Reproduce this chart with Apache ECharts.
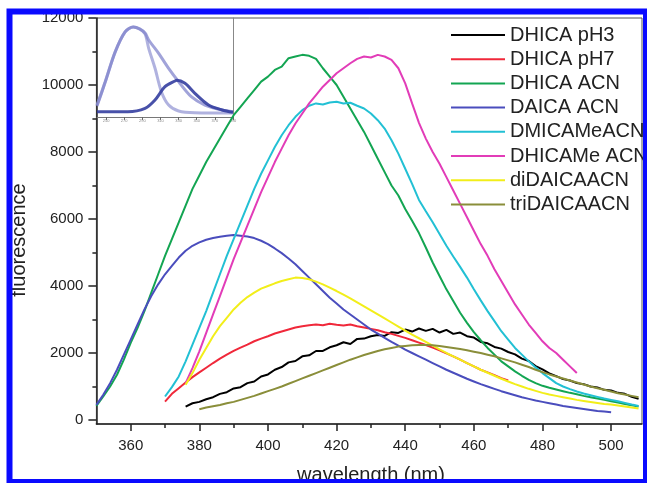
<!DOCTYPE html>
<html>
<head>
<meta charset="utf-8">
<script src="https://cdn.jsdelivr.net/npm/echarts@6/dist/echarts.min.js"></script>
<style>
  html, body { margin: 0; padding: 0; background: #fff; }
  #chart { width: 647px; height: 483px; }
</style>
</head>
<body>
<div id="chart"></div>
<script>
// Emission wavelengths (nm) shared by all spectra
const wavelength = [350,352,354,356,358,360,362,364,366,368,370,372,374,376,378,380,382,384,386,388,
  390,392,394,396,398,400,402,404,406,408,410,412,414,416,418,420,422,424,426,428,
  430,432,434,436,438,440,442,444,446,448,450,452,454,456,458,460,462,464,466,468,
  470,472,474,476,478,480,482,484,486,488,490,492,494,496,498,500,502,504,506,508];

const dhicaPH3 = [null,null,null,null,null,null,null,null,null,null,null,null,null,
  400,500,540,620,680,780,830,940,980,1100,
  1150,1300,1360,1500,1580,1720,1760,1900,1930,2060,
  2060,2170,2230,2320,2270,2420,2430,2500,2540,2510,
  2620,2600,2700,2640,2730,2660,2720,2610,2690,2570,
  2610,2500,2460,2330,2290,2180,2130,2030,1960,1830,
  1760,1610,1510,1390,1310,1220,1180,1100,1070,1000,
  970,900,880,810,780,690,630];

const dhicaPH7 = [null,null,null,null,null,null,null,null,null,null,
  550,780,950,1120,1280,1420,1560,1700,1830,1950,
  2060,2160,2250,2350,2430,2500,2580,2640,2700,2760,
  2800,2830,2850,2830,2870,2840,2820,2850,2800,2760,
  2720,2680,2620,2570,2510,2450,2380,2310,2240,2160,
  2080,1990,1900,1800,1700,1600,1500,1420,1340,1250,
  1180,null,null,null,null,null,null,null,null,null,null,null,null,null,null,null,null,null,null];

const dhicaACN = [420,700,1000,1350,1800,2300,2750,3250,3800,4350,
  4900,5400,5900,6400,6900,7300,7700,8050,8400,8750,
  9100,9350,9600,9850,10100,10250,10450,10550,10800,10850,
  10900,10870,10780,10500,10250,10000,9650,9300,8950,8600,
  8200,7800,7400,7000,6700,6300,5950,5580,5150,4700,
  4300,3900,3550,3200,2900,2620,2380,2150,1950,1750,
  1600,1450,1320,1200,1100,1020,960,910,860,810,
  770,720,680,640,600,560,520,480,440,400];

const daicaACN = [450,750,1100,1500,1950,2400,2850,3300,3700,4050,
  4350,4600,4850,5050,5200,5300,5380,5430,5470,5500,
  5520,5500,5480,5430,5350,5250,5120,4980,4820,4650,
  4450,4250,4050,3850,3650,3480,3300,3150,3000,2850,
  2700,2580,2450,2330,2220,2100,2000,1900,1800,1700,
  1600,1500,1410,1320,1230,1150,1070,1000,930,860,
  800,740,680,630,580,540,500,460,420,390,
  360,330,300,270,250,230,null,null,null,null];

const dmicaMeACN = [null,null,null,null,null,null,null,null,null,null,
  700,980,1300,1750,2250,2750,3250,3800,4350,4900,
  5400,5900,6400,6900,7350,7750,8150,8500,8800,9050,
  9250,9380,9450,9420,9480,9500,9450,9470,9380,9300,
  9150,8950,8700,8350,7950,7500,7050,6570,6230,5900,
  5550,5200,4880,4570,4250,3900,3570,3250,2950,2650,
  2400,2150,1950,1750,1570,1400,1250,1100,1000,920,
  850,790,740,690,640,600,560,510,460,420];

const dhicaMeACN = [null,null,null,null,null,null,null,null,null,null,null,null,null,
  1100,1550,2050,2600,3150,3700,4250,4800,5300,5800,
  6300,6800,7250,7700,8100,8500,8850,9150,9450,9700,
  9950,10150,10350,10500,10650,10780,10850,10820,10900,10850,
  10750,10500,10050,9450,8870,8400,8000,7650,7250,6850,
  6450,6050,5650,5250,4900,4500,4150,3800,3450,3150,
  2850,2600,2350,2150,2000,1800,1600,1400,
  null,null,null,null,null,null,null,null,null];

const diDAICA = [null,null,null,null,null,null,null,null,null,null,null,null,null,
  1050,1400,1800,2150,2500,2800,3050,3300,3500,3670,
  3800,3920,4000,4080,4150,4200,4250,4240,4200,4130,
  4050,3950,3850,3740,3630,3510,3390,3270,3150,3030,
  2910,2790,2670,2550,2440,2330,2220,2110,2000,1900,
  1800,1700,1600,1500,1410,1320,1230,1150,1070,1000,
  930,870,810,760,720,680,640,600,570,540,
  510,480,460,430,400,370,340];

const triDAICA = [null,null,null,null,null,null,null,null,null,null,null,null,null,null,null,
  320,370,410,450,500,540,600,660,720,790,
  860,930,1000,1080,1160,1240,1320,1400,1480,1560,
  1640,1720,1800,1870,1940,2000,2060,2110,2150,2190,
  2210,2230,2240,2240,2230,2210,2180,2150,2120,2080,
  2040,2000,1950,1900,1840,1780,1720,1650,1580,1500,
  1430,1360,1300,1240,1180,1120,1060,1000,950,900,
  850,800,760,720,680];

const seriesNames = ['DHICA pH3','DHICA pH7','DHICA ACN','DAICA ACN','DMICAMeACN','DHICAMe ACN','diDAICAACN','triDAICAACN'];
const seriesValues = [dhicaPH3, dhicaPH7, dhicaACN, daicaACN, dmicaMeACN, dhicaMeACN, diDAICA, triDAICA];
const seriesColors = ['#000000','#f0283a','#13a552','#4a4dbd','#22c0d4','#e23cb8','#f2ee1a','#8a8e3a'];

// Axis ticks
const xMajorTicks = [360,380,400,420,440,460,480,500];
const xMinorTicks = [370,390,410,430,450,470,490];
const yMajorTicks = [0,2000,4000,6000,8000,10000,12000];
const yMinorTicks = [1000,3000,5000,7000,9000,11000];

// Inset spectra (arbitrary units)
const insetA_x = [240,249,260,271,280,287,293,297,304,311,319,330,348,390];
const insetA_y = [12,35.5,65.7,85.9,90.8,88.9,84,69.4,49.2,25.6,12.1,6.1,4.3,4];
const insetB_x = [240,249,260,271,280,287,293,297,308,319,330,344,359,378,390];
const insetB_y = [11,35,65.5,86,91,89,84.8,77.8,64.3,49.2,35.7,20.5,12.1,7.1,5.4];
const insetC_x = [240,274,293,304,315,326,328,337,348,363,378,390];
const insetC_y = [5.4,5.4,8.8,17.2,30.6,36.4,37.1,34,23.9,12.1,7.1,4.7];
const insetTicks = [250,270,290,310,330,350,370,390];

const FONT = 'Liberation Sans, Arial, sans-serif';
const pairs = (xs, ys) => xs.map((x, i) => [x, ys[i]]);
const plain = v => String(v);

const chart = echarts.init(document.getElementById('chart'), null, { renderer: 'canvas' });

const mainSeries = seriesNames.map((name, k) => ({
  name: name,
  type: 'line',
  xAxisIndex: 0,
  yAxisIndex: 0,
  showSymbol: false,
  symbol: 'none',
  data: pairs(wavelength, seriesValues[k]),
  lineStyle: { color: seriesColors[k], width: 2 },
  itemStyle: { color: seriesColors[k] },
  emphasis: { disabled: true },
  z: 3
}));

const insetSeries = [
  { x: insetA_x, y: insetA_y, color: 'rgba(150,152,212,0.75)' },
  { x: insetB_x, y: insetB_y, color: 'rgba(130,132,204,0.75)' },
  { x: insetC_x, y: insetC_y, color: 'rgba(52,62,160,0.9)' }
].map(s => ({
  type: 'line',
  xAxisIndex: 2,
  yAxisIndex: 2,
  smooth: 0.3,
  showSymbol: false,
  symbol: 'none',
  data: pairs(s.x, s.y),
  lineStyle: { color: s.color, width: 3 },
  emphasis: { disabled: true },
  silent: true
}));

const option = {
  backgroundColor: '#ffffff',
  animation: false,
  textStyle: { fontFamily: FONT },
  grid: [
    { left: 96.4, top: 18, width: 545.6, height: 406, show: true, borderColor: '#555', borderWidth: 1, backgroundColor: 'transparent' },
    { left: 97, top: 18, width: 136, height: 99 }
  ],
  xAxis: [
    {
      gridIndex: 0, type: 'value', min: 350, max: 509, position: 'bottom',
      axisLine: { onZero: false, lineStyle: { color: '#222', width: 1.5 } },
      axisTick: { customValues: xMajorTicks, length: 7, lineStyle: { color: '#222', width: 1.5 } },
      axisLabel: { customValues: xMajorTicks, formatter: plain, margin: 14, fontSize: 15, color: '#222', fontFamily: FONT },
      splitLine: { show: false }
    },
    {
      gridIndex: 0, type: 'value', min: 350, max: 509, position: 'bottom',
      axisLine: { show: false, onZero: false },
      axisTick: { customValues: xMinorTicks, length: 4, lineStyle: { color: '#222', width: 1.5 } },
      axisLabel: { show: false },
      splitLine: { show: false }
    },
    {
      gridIndex: 1, type: 'value', min: 240, max: 390, position: 'bottom',
      axisLine: { onZero: false, lineStyle: { color: '#777', width: 1 } },
      axisTick: { customValues: insetTicks, length: 3, lineStyle: { color: '#666', width: 1 } },
      axisLabel: { customValues: insetTicks, formatter: plain, margin: 2, fontSize: 4, color: '#888', fontFamily: FONT },
      splitLine: { show: false }
    }
  ],
  yAxis: [
    {
      gridIndex: 0, type: 'value', min: -120, max: 12000, position: 'left',
      axisLine: { show: true, onZero: false, lineStyle: { color: '#222', width: 1.5 } },
      axisTick: { show: true, customValues: yMajorTicks, length: 8, lineStyle: { color: '#222', width: 1.5 } },
      axisLabel: { customValues: yMajorTicks, formatter: plain, margin: 13, fontSize: 15, color: '#222', fontFamily: FONT },
      splitLine: { show: false }
    },
    {
      gridIndex: 0, type: 'value', min: -120, max: 12000, position: 'left',
      axisLine: { show: false, onZero: false },
      axisTick: { show: true, customValues: yMinorTicks, length: 4, lineStyle: { color: '#222', width: 1.5 } },
      axisLabel: { show: false },
      splitLine: { show: false }
    },
    {
      gridIndex: 1, type: 'value', min: 0, max: 100, position: 'right',
      axisLine: { show: true, onZero: false, lineStyle: { color: '#888', width: 1 } },
      axisTick: { show: false },
      axisLabel: { show: false },
      splitLine: { show: false }
    }
  ],
  legend: {
    orient: 'vertical',
    left: 451,
    top: 23,
    padding: 0,
    itemGap: 0.2,
    itemWidth: 54,
    itemHeight: 2,
    icon: 'rect',
    data: seriesNames,
    textStyle: { fontSize: 20, lineHeight: 24, color: '#222', fontFamily: FONT },
    selectedMode: false
  },
  graphic: [
    {
      type: 'text', x: 371, y: 475, z: 10,
      style: { text: 'wavelength (nm)', fontSize: 20, fontFamily: FONT, fill: '#222', align: 'center', verticalAlign: 'middle' }
    },
    {
      type: 'text', x: 19, y: 240, rotation: Math.PI / 2, z: 10,
      style: { text: 'fluorescence', fontSize: 20, fontFamily: FONT, fill: '#222', align: 'center', verticalAlign: 'middle' }
    },
    {
      type: 'rect', zlevel: 1, z: 100, silent: true,
      shape: { x: 9.5, y: 11.5, width: 636.5, height: 470.5 },
      style: { fill: 'none', stroke: '#0a0aff', lineWidth: 6 }
    }
  ],
  series: mainSeries.concat(insetSeries)
};

chart.setOption(option);
</script>
</body>
</html>
